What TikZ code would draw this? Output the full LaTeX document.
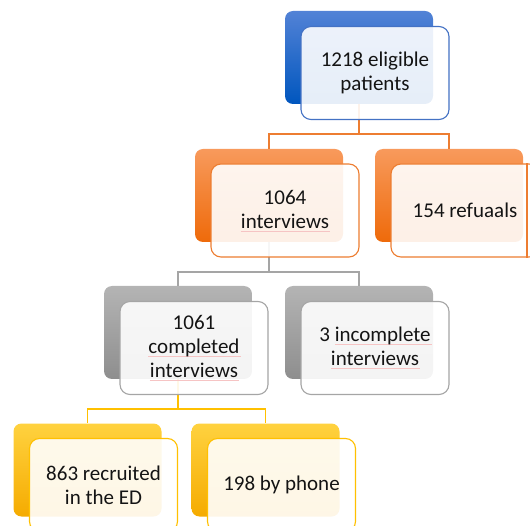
\documentclass[tikz,border=0pt]{standalone}
\usepackage{fontspec}
\setmainfont{Carlito}

% colour scheme per level
\definecolor{bluetop}{RGB}{82,130,214}
\definecolor{bluebot}{RGB}{0,86,190}
\definecolor{blueline}{RGB}{68,114,196}
\definecolor{orangetop}{RGB}{248,154,92}
\definecolor{orangebot}{RGB}{238,106,10}
\definecolor{orangeline}{RGB}{237,125,49}
\definecolor{greytop}{RGB}{180,180,180}
\definecolor{greybot}{RGB}{142,142,142}
\definecolor{greyline}{RGB}{165,165,165}
\definecolor{yellowtop}{RGB}{255,210,63}
\definecolor{yellowbot}{RGB}{245,171,0}
\definecolor{yellowline}{RGB}{255,192,0}
\definecolor{spell}{RGB}{246,196,196}
\definecolor{ink}{RGB}{20,20,20}

% faint spelling underline below a word
\newsavebox\wordbox
\newcommand\squig[1]{\sbox\wordbox{#1}%
  \rlap{\textcolor{spell}{\rule[-3pt]{\dimexpr\wd\wordbox+1pt\relax}{0.4pt}}}\usebox\wordbox}

\tikzset{
  backbox/.style={rounded corners=8pt, minimum width=148pt, minimum height=93pt,
    inner sep=0pt, draw=none},
  frontbox/.style={rounded corners=10pt, minimum width=148pt, minimum height=93pt,
    inner sep=2pt, fill=white, fill opacity=0.9, text opacity=1, line width=1.1pt,
    align=center, text=ink, font=\fontsize{21}{24}\selectfont},
  link/.style={line width=1.1pt},
}

\begin{document}
\begin{tikzpicture}[x=1pt, y=-1pt]
\useasboundingbox (0,0) rectangle (530,526);
\clip (0,0) rectangle (530,526);

% back shapes
\node[backbox, top color=bluetop, bottom color=bluebot] (b0) at (359,57.5) {};
\node[backbox, top color=orangetop, bottom color=orangebot] (b1) at (269,195.5) {};
\node[backbox, top color=orangetop, bottom color=orangebot] (b2) at (449,195.5) {};
\node[backbox, top color=greytop, bottom color=greybot] (b3) at (178,332.5) {};
\node[backbox, top color=greytop, bottom color=greybot] (b4) at (359,332.5) {};
\node[backbox, top color=yellowtop, bottom color=yellowbot] (b5) at (87.5,470) {};
\node[backbox, top color=yellowtop, bottom color=yellowbot] (b6) at (265.5,470) {};

% junction levels of the elbow connectors
\coordinate (j1) at (0,134);
\coordinate (j2) at (0,272);
\coordinate (j3) at (0,409);

\draw[link, orangeline] (b0.south) -- (b0.south |- j1) -| (b1.north);
\draw[link, orangeline] (b0.south |- j1) -| (b2.north);
\draw[link, greyline] (b1.south) -- (b1.south |- j2) -| (b3.north);
\draw[link, greyline] (b1.south |- j2) -| (b4.north);
\draw[link, yellowline] (b3.south) -- (b3.south |- j3) -| (b5.north);
\draw[link, yellowline] (b3.south |- j3) -| (b6.north);

% front text shapes
\node[frontbox, draw=blueline] (f0) at (375,73) {1218 eligible\\patients};
\node[frontbox, draw=orangeline] (f1) at (285,210.5) {1064\\\squig{interviews}};
\node[frontbox, draw=orangeline] (f2) at (465,210.5) {154 refuaals};
\node[frontbox, draw=greyline] (f3) at (194,348) {1061\\\squig{completed}\\\squig{interviews}};
\node[frontbox, draw=greyline] (f4) at (375,348) {3 \squig{incomplete}\\\squig{interviews}};
\node[frontbox, draw=yellowline] (f5) at (103.5,485) {863 recruited\\in the ED};
\node[frontbox, draw=yellowline] (f6) at (281.5,485) {198 by phone};

% cut edge of the right-hand box
\draw[line width=1.1pt, orangeline] (527,0 |- f2.north) -- (527,0 |- f2.south);
\end{tikzpicture}
\end{document}
